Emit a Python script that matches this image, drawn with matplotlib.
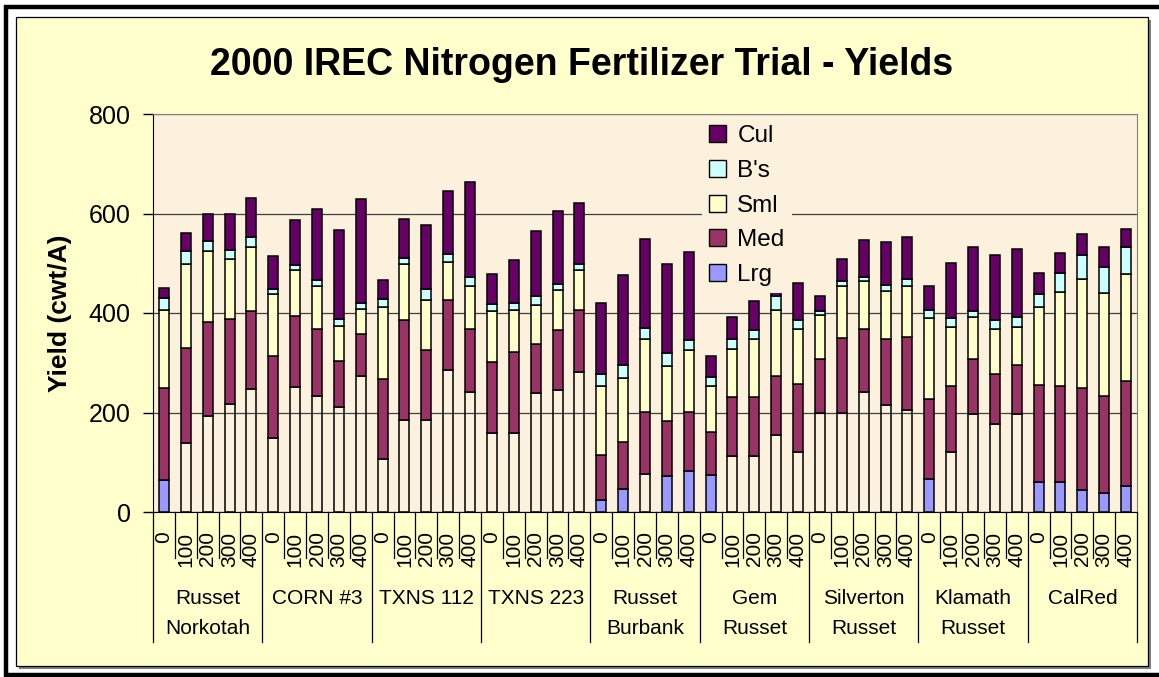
import numpy as np
import matplotlib
matplotlib.use('Agg')
import matplotlib.pyplot as plt
from matplotlib.patches import Rectangle, Patch
from matplotlib.lines import Line2D
from matplotlib.transforms import blended_transform_factory

plt.rcParams['font.family'] = ['Liberation Sans', 'DejaVu Sans']

# varieties and nitrogen rates
varieties = ['Russet\nNorkotah', 'CORN #3', 'TXNS 112', 'TXNS 223', 'Russet\nBurbank',
             'Gem\nRusset', 'Silverton\nRusset', 'Klamath\nRusset', 'CalRed']
rates = ['0', '100', '200', '300', '400']

# yield by size class (cwt/A), 45 bars = 9 varieties x 5 rates
lrg = [64, 138, 192, 217, 247,
       149, 251, 234, 212, 273,
       107, 184, 184, 286, 242,
       158, 158, 239, 245, 281,
       25, 47, 77, 72, 83,
       74, 113, 113, 154, 121,
       198, 198, 241, 215, 206,
       66, 121, 196, 176, 196,
       60, 60, 44, 38, 52]
med = [186, 192, 190, 171, 157,
       164, 143, 134, 91, 84,
       160, 202, 141, 140, 126,
       144, 163, 99, 121, 126,
       90, 94, 124, 110, 118,
       86, 118, 118, 119, 137,
       110, 151, 127, 132, 145,
       162, 133, 112, 101, 100,
       195, 193, 205, 195, 211]
sml = [156, 168, 143, 120, 129,
       126, 92, 86, 71, 52,
       145, 112, 101, 76, 87,
       102, 86, 79, 81, 79,
       139, 129, 146, 112, 124,
       94, 96, 116, 134, 110,
       88, 105, 96, 98, 104,
       162, 117, 84, 91, 75,
       157, 189, 220, 207, 216]
bs = [25, 26, 19, 19, 19,
      9, 11, 13, 13, 12,
      16, 13, 22, 17, 17,
      14, 13, 17, 12, 12,
      23, 25, 23, 25, 20,
      18, 21, 19, 27, 17,
      8, 10, 9, 11, 13,
      16, 18, 13, 18, 21,
      27, 38, 47, 52, 53]
cul = [20, 37, 55, 72, 80,
       66, 89, 143, 180, 209,
       39, 78, 129, 127, 191,
       61, 86, 130, 146, 124,
       144, 181, 178, 179, 177,
       42, 43, 58, 62, 75,
       31, 44, 74, 86, 85,
       48, 111, 128, 130, 136,
       42, 40, 42, 41, 37]

# bars whose Lrg segment is drawn filled (the rest are left unfilled)
lrg_filled = [0, 20, 21, 23, 24, 25, 35, 40, 41, 42, 43, 44]

series = [('Lrg', lrg, '#9999FF'), ('Med', med, '#993366'), ('Sml', sml, '#FFFFCC'),
          ("B's", bs, '#CCFFFF'), ('Cul', cul, '#660066')]

plot_bg = '#FCF1DC'
fig = plt.figure(figsize=(11.59, 6.77), dpi=100, facecolor='white')
W, H = 1159, 677

# outer frame (left, top, bottom only) and chart area
fig.add_artist(Line2D([1.0, 5.5 / W, 5.5 / W, 1.0], [1 - 6.5 / H, 1 - 6.5 / H, 1 - 675 / H, 1 - 675 / H],
                      transform=fig.transFigure, color='black', lw=3.2, solid_joinstyle='miter'))
fig.patches.append(Rectangle((18.5 / W, 1 - 668.5 / H), (1148 - 16) / W, (666 - 17) / H,
                             transform=fig.transFigure, facecolor='#808080', edgecolor='none', zorder=0.5))
fig.patches.append(Rectangle((16 / W, 1 - 666 / H), (1148 - 16) / W, (666 - 17) / H, transform=fig.transFigure,
                             facecolor='#FFFFCC', edgecolor='black', lw=0.9, zorder=1))

ax = fig.add_axes([153 / W, 1 - 512 / H, (1137 - 153) / W, (512 - 114) / H])
ax.set_facecolor(plot_bg)
ax.set_zorder(2)

n = len(lrg)
x = np.arange(n)
bottom = np.zeros(n)
for name, vals, color in series:
    vals = np.array(vals, dtype=float)
    if name == 'Lrg':
        fc = [color if i in lrg_filled else 'none' for i in range(n)]
    else:
        fc = color
    ax.bar(x, vals, 0.46, bottom=bottom, color=fc, edgecolor='black', linewidth=1.1, zorder=3)
    bottom += vals

ax.set_xlim(-0.5, n - 0.5)
ax.set_ylim(0, 800)
ax.set_yticks([0, 200, 400, 600, 800])
ax.tick_params(axis='y', labelsize=18, length=7, width=1, pad=9, direction='out')
ax.yaxis.grid(True, color='#404040', linewidth=0.9)
ax.set_axisbelow(True)
for s in ['top', 'right']:
    ax.spines[s].set_color('#808080')
for s in ['left', 'bottom']:
    ax.spines[s].set_color('black')

ax.set_xticks(x, [r for v in varieties for r in rates], rotation=90, fontsize=15)
ax.tick_params(axis='x', length=0, pad=14)

tr = blended_transform_factory(ax.transData, ax.transAxes)
for b in np.arange(-0.5, n, 1.0):
    is_group = int(b + 0.5) % 5 == 0
    ax.plot([b, b], [0, -0.327 if is_group else -0.116], color='black', lw=0.9,
            transform=tr, clip_on=False)
for g, name in enumerate(varieties):
    ax.text(g * 5 + 2, -0.193, name, transform=tr, ha='center', va='top', fontsize=15,
            linespacing=1.75)

ax.set_ylabel('Yield (cwt/A)', fontsize=19, fontweight='bold', labelpad=12)
fig.text(582 / W, 1 - 65 / H, '2000 IREC Nitrogen Fertilizer Trial - Yields', ha='center', va='center',
         fontsize=27, fontweight='bold')

handles = [Patch(facecolor=c, edgecolor='black', lw=1) for _, _, c in series][::-1]
labels = [nm for nm, _, _ in series][::-1]
leg = ax.legend(handles, labels, loc='upper left', bbox_to_anchor=(0.558, 0.99), borderaxespad=0,
                fontsize=17.5, frameon=True, facecolor=plot_bg, edgecolor='none', framealpha=1,
                handlelength=0.7, handleheight=0.7, handletextpad=0.45, labelspacing=0.52,
                borderpad=0.3)
leg.set_zorder(4)

fig.savefig('out.png', dpi=100, facecolor='white')
